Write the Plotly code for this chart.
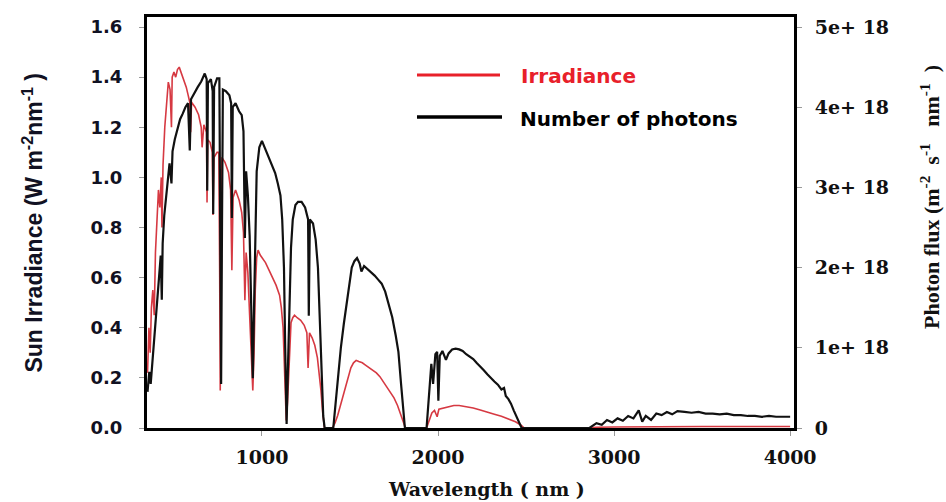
import plotly.graph_objects as go

# ---------------- data ----------------
IRR_WL = [350, 358, 365, 372, 380, 388, 395, 405, 412, 420, 428, 432, 438, 448, 458, 468, 478, 486,
          490, 500, 510, 520, 530, 540, 550, 560, 570, 580, 590, 595, 600, 620, 640, 655, 660, 670,
          685, 688, 692, 705, 718, 722, 728, 745, 755, 760, 763, 768, 772, 790, 810, 822, 829, 836,
          850, 870, 885, 895, 903, 910, 920, 930, 940, 948, 955, 962, 970, 978, 990, 1000, 1020,
          1040, 1060, 1080, 1100, 1110, 1120, 1130, 1138, 1145, 1155, 1165, 1175, 1185, 1200, 1220,
          1240, 1255, 1262, 1270, 1285, 1300, 1315, 1325, 1335, 1345, 1355, 1400, 1415, 1430, 1445,
          1460, 1475, 1490, 1505, 1520, 1535, 1550, 1570, 1590, 1610, 1630, 1650, 1670, 1690, 1710,
          1730, 1750, 1770, 1785, 1800, 1815, 1935, 1950, 1965, 1980, 1995, 2005, 2030, 2060, 2090,
          2120, 2160, 2200, 2240, 2280, 2320, 2360, 2400, 2440, 2470, 2490, 2850, 2900, 3000, 3200,
          3500, 4000]
IRRADIANCE = [0.22, 0.40, 0.30, 0.48, 0.55, 0.45, 0.70, 0.85, 0.95, 0.88, 1.00, 0.80, 1.05, 1.20,
              1.30, 1.38, 1.35, 1.20, 1.40, 1.42, 1.40, 1.43, 1.44, 1.42, 1.40, 1.38, 1.36, 1.33,
              1.30, 1.18, 1.30, 1.28, 1.25, 1.20, 1.12, 1.21, 1.18, 0.90, 1.15, 1.14, 1.10, 0.85,
              1.08, 1.10, 1.10, 0.60, 0.15, 0.70, 1.08, 1.06, 1.02, 0.95, 0.63, 0.92, 0.95, 0.91,
              0.86, 0.78, 0.51, 0.70, 0.62, 0.45, 0.25, 0.15, 0.30, 0.55, 0.68, 0.71, 0.69, 0.68,
              0.66, 0.63, 0.60, 0.57, 0.53, 0.48, 0.40, 0.20, 0.03, 0.10, 0.30, 0.42, 0.44, 0.45,
              0.44, 0.43, 0.41, 0.38, 0.24, 0.38, 0.36, 0.33, 0.28, 0.22, 0.15, 0.06, 0.0, 0.0,
              0.02, 0.05, 0.09, 0.13, 0.17, 0.21, 0.24, 0.26, 0.27, 0.265, 0.26, 0.25, 0.24, 0.23,
              0.22, 0.205, 0.185, 0.165, 0.145, 0.12, 0.09, 0.06, 0.03, 0.0, 0.0, 0.03, 0.06, 0.07,
              0.045, 0.075, 0.08, 0.085, 0.09, 0.09, 0.085, 0.08, 0.072, 0.065, 0.055, 0.047, 0.037,
              0.025, 0.012, 0.0, 0.0, 0.003, 0.004, 0.005, 0.006, 0.006]

PH_WL = [350, 360, 368, 378, 388, 395, 405, 415, 425, 431, 436, 445, 455, 465, 475, 486, 492, 505,
         520, 535, 550, 565, 580, 590, 597, 615, 635, 655, 675, 686, 689, 693, 710, 720, 723, 728,
         745, 758, 763, 768, 773, 778, 795, 815, 825, 829, 834, 850, 870, 885, 895, 903, 910, 920,
         930, 940, 948, 955, 962, 970, 985, 1000, 1015, 1035, 1055, 1075, 1090, 1105, 1115, 1125,
         1132, 1140, 1147, 1155, 1165, 1175, 1190, 1205, 1225, 1245, 1262, 1266, 1272, 1290, 1305,
         1318, 1328, 1338, 1348, 1356, 1405, 1418, 1432, 1448, 1465, 1480, 1495, 1510, 1525, 1540,
         1555, 1565, 1580, 1600, 1620, 1640, 1660, 1680, 1700, 1720, 1740, 1760, 1775, 1790, 1800,
         1812, 1935, 1950, 1962, 1972, 1985, 1995, 2002, 2010, 2025, 2045, 2060, 2080, 2100, 2120,
         2140, 2160, 2180, 2200, 2220, 2240, 2260, 2280, 2300, 2320, 2340, 2360, 2375, 2385, 2400,
         2415, 2430, 2445, 2460, 2475, 2860, 2900, 2930, 2960, 2990, 3020, 3050, 3080, 3110, 3140,
         3160, 3180, 3210, 3240, 3270, 3300, 3330, 3360, 3400, 3440, 3480, 3520, 3560, 3600, 3640,
         3680, 3720, 3760, 3800, 3840, 3880, 3920, 3960, 4000]
# photon flux in units of 1e18 m^-2 s^-1 nm^-1
PHOTONS_E18 = [0.45, 0.70, 0.55, 0.85, 1.05, 1.25, 1.65, 1.95, 2.15, 1.60, 2.30, 2.65, 2.90, 3.10,
               3.30, 3.05, 3.45, 3.60, 3.72, 3.85, 3.92, 4.00, 4.05, 3.46, 4.10, 4.18, 4.25, 4.32,
               4.42, 4.35, 2.96, 4.30, 4.35, 4.20, 2.67, 4.25, 4.36, 4.36, 2.00, 0.55, 2.50, 4.22,
               4.20, 4.15, 4.05, 2.62, 4.00, 4.05, 3.95, 3.90, 3.70, 2.37, 3.20, 2.90, 2.40, 1.30,
               0.62, 1.50, 2.60, 3.20, 3.50, 3.58, 3.50, 3.40, 3.30, 3.18, 3.05, 2.90, 2.60, 2.00,
               1.00, 0.05, 0.70, 1.60, 2.25, 2.60, 2.78, 2.82, 2.82, 2.75, 2.60, 1.40, 2.60, 2.55,
               2.35, 2.00, 1.40, 0.70, 0.15, 0.0, 0.0, 0.30, 0.65, 1.00, 1.30, 1.55, 1.80, 2.00,
               2.08, 2.12, 2.05, 1.95, 2.02, 1.98, 1.95, 1.90, 1.85, 1.80, 1.70, 1.55, 1.38, 1.15,
               0.95, 0.55, 0.25, 0.0, 0.0, 0.40, 0.80, 0.55, 0.92, 0.95, 0.34, 0.90, 0.96, 0.85,
               0.93, 0.98, 0.99, 0.98, 0.96, 0.92, 0.89, 0.86, 0.81, 0.77, 0.72, 0.67, 0.62, 0.58,
               0.54, 0.48, 0.50, 0.40, 0.36, 0.30, 0.22, 0.14, 0.07, 0.0, 0.0, 0.06, 0.04, 0.10,
               0.07, 0.12, 0.09, 0.15, 0.12, 0.22, 0.08, 0.15, 0.10, 0.18, 0.16, 0.20, 0.17, 0.21,
               0.20, 0.19, 0.20, 0.18, 0.18, 0.17, 0.18, 0.16, 0.16, 0.15, 0.15, 0.14, 0.15, 0.14,
               0.14, 0.14]

X_TICKS = [1000, 2000, 3000, 4000]
Y1_TICKS = [0.0, 0.2, 0.4, 0.6, 0.8, 1.0, 1.2, 1.4, 1.6]
Y2_TICKS = [0, 1, 2, 3, 4, 5]
Y2_TICKTEXT = ["0", "1e+ 18", "2e+ 18", "3e+ 18", "4e+ 18", "5e+ 18"]

# ---------------- figure ----------------
fig = go.Figure()
fig.add_trace(go.Scatter(x=PH_WL, y=PHOTONS_E18, mode="lines", yaxis="y2",
                         line=dict(color="#111111", width=2.2), name="Number of photons",
                         showlegend=False))
fig.add_trace(go.Scatter(x=IRR_WL, y=IRRADIANCE, mode="lines", yaxis="y",
                         line=dict(color="rgba(210,35,45,0.9)", width=1.6), name="Irradiance",
                         showlegend=False))

SANS_H = "DejaVu Sans, Verdana, sans-serif"
SANS_V = "Liberation Sans, Arial, sans-serif"
SERIF_H = "DejaVu Serif, serif"
SERIF_V = "Liberation Serif, Times New Roman, serif"

axis_common = dict(showline=True, linecolor="black", linewidth=3, showgrid=False, zeroline=False,
                   ticks="outside", ticklen=5, tickwidth=1, tickcolor="#9a9a9a")

fig.update_layout(
    width=946, height=502, autosize=False,
    margin=dict(l=147, r=152, t=17, b=74),
    paper_bgcolor="white", plot_bgcolor="white",
    xaxis=dict(range=[347, 4022], tickvals=X_TICKS, mirror=True,
               tickfont=dict(family=SERIF_H, size=19, color="#111111", weight=700),
               ticklabelstandoff=5, **axis_common),
    yaxis=dict(range=[0, 1.64], tickvals=Y1_TICKS, tickformat=".1f",
               tickfont=dict(family=SANS_H, size=18, color="#111122", weight=700),
               ticklabelstandoff=13, **axis_common),
    yaxis2=dict(range=[0, 5.125], tickvals=Y2_TICKS, ticktext=Y2_TICKTEXT, overlaying="y",
                side="right",
                tickfont=dict(family=SERIF_H, size=19, color="#111111", weight=700),
                ticklabelstandoff=9, **axis_common),
)

# axis titles as annotations
fig.add_annotation(xref="paper", yref="paper", x=-0.1777, y=0.5, xanchor="center",
                   yanchor="middle", textangle=-90, showarrow=False,
                   text="Sun Irradiance (W m<sup>-2</sup>nm<sup>-1</sup> )",
                   font=dict(family=SANS_V, size=23, color="#111122", weight=700))
fig.add_annotation(xref="paper", yref="paper", x=1.2102, y=0.562, xanchor="center",
                   yanchor="middle", textangle=-90, showarrow=False,
                   text="Photon flux (m<sup>-2</sup>  s<sup>-1</sup>   nm<sup>-1</sup>  )",
                   font=dict(family=SERIF_V, size=22, color="#111111", weight=700))
fig.add_annotation(xref="paper", yref="paper", x=0.524, y=-0.148, xanchor="center",
                   yanchor="middle", showarrow=False,
                   text="Wavelength ( nm )",
                   font=dict(family=SERIF_H, size=19, color="#111111", weight=700))

# legend drawn manually
fig.add_shape(type="line", xref="paper", yref="paper", x0=0.4173, x1=0.5456, y0=0.8589, y1=0.8589,
              line=dict(color="#e8202a", width=3))
fig.add_shape(type="line", xref="paper", yref="paper", x0=0.4173, x1=0.5487, y0=0.7567, y1=0.7567,
              line=dict(color="#000000", width=3.5))
fig.add_annotation(xref="paper", yref="paper", x=0.575, y=0.8564, xanchor="left", yanchor="middle",
                   showarrow=False, text="Irradiance",
                   font=dict(family=SANS_H, size=20, color="#e8202a", weight=700))
fig.add_annotation(xref="paper", yref="paper", x=0.5734, y=0.7518, xanchor="left", yanchor="middle",
                   showarrow=False, text="Number of photons",
                   font=dict(family=SANS_H, size=20, color="#000000", weight=700))

fig.write_html("out.html", config={"displayModeBar": False},
               post_script="document.body.style.margin='0';document.body.style.overflow='hidden';")
